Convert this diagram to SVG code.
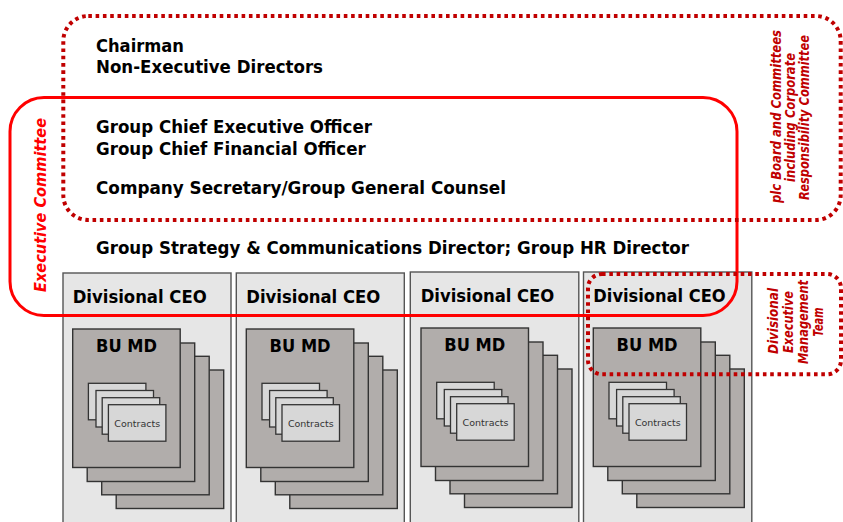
<svg xmlns="http://www.w3.org/2000/svg" width="843" height="522" viewBox="0 0 843 522">
<style>
.bg{fill:#ffffff}
.col{fill:#e6e6e6;stroke:#555555;stroke-width:1.4}
.bu{fill:#b1adab;stroke:#333333;stroke-width:1.4}
.ct{fill:#d7d7d7;stroke:#333333;stroke-width:1.3}
.t{font-family:"DejaVu Sans","Liberation Sans",sans-serif;font-weight:bold;fill:#000000}
.main{font-size:17px}
.dceo{font-size:17.5px}
.bumd{font-size:18px;text-anchor:middle}
.ctt{font-family:"DejaVu Sans","Liberation Sans",sans-serif;font-size:9.5px;fill:#333333;text-anchor:middle}
.exec{fill:none;stroke:#ff0000;stroke-width:3}
.dot{fill:none;stroke:#c00000;stroke-width:4;stroke-dasharray:3.6 3.7}
.rl{font-family:"DejaVu Sans","Liberation Sans",sans-serif;font-weight:bold;font-style:italic;text-anchor:middle}
.red{fill:#ff0000;font-size:16.5px}
.dred{fill:#c00000;font-size:14px}
</style>
<rect class="bg" x="0" y="0" width="843" height="522"/>

<g id="division-1">
<rect class="col" x="63" y="273" width="168" height="260"/>
<text class="t dceo" x="72.7" y="303.3" textLength="134" lengthAdjust="spacingAndGlyphs">Divisional CEO</text>
<rect class="bu" x="116.2" y="370" width="107.5" height="138.5"/>
<rect class="bu" x="101.7" y="356.3" width="107.5" height="138.5"/>
<rect class="bu" x="87.2" y="343" width="107.5" height="138.5"/>
<rect class="bu" x="72.7" y="329" width="107.5" height="138.5"/>
<text class="t bumd" x="126.5" y="352" textLength="61" lengthAdjust="spacingAndGlyphs">BU MD</text>
<rect class="ct" x="88.4" y="383.3" width="57.5" height="36.5"/>
<rect class="ct" x="96" y="390.5" width="57.5" height="36.5"/>
<rect class="ct" x="102.2" y="397.7" width="57.5" height="36.5"/>
<rect class="ct" x="108.4" y="404.7" width="57.5" height="36.5"/>
<text class="ctt" x="137.2" y="426.5">Contracts</text>
</g>

<g id="division-2">
<rect class="col" x="236.3" y="273" width="168" height="260"/>
<text class="t dceo" x="246.3" y="303.3" textLength="134" lengthAdjust="spacingAndGlyphs">Divisional CEO</text>
<rect class="bu" x="289.8" y="370" width="107.5" height="138.5"/>
<rect class="bu" x="275.3" y="356.3" width="107.5" height="138.5"/>
<rect class="bu" x="260.8" y="343" width="107.5" height="138.5"/>
<rect class="bu" x="246.3" y="329" width="107.5" height="138.5"/>
<text class="t bumd" x="300.1" y="352" textLength="61" lengthAdjust="spacingAndGlyphs">BU MD</text>
<rect class="ct" x="262" y="383.3" width="57.5" height="36.5"/>
<rect class="ct" x="269.6" y="390.5" width="57.5" height="36.5"/>
<rect class="ct" x="275.8" y="397.7" width="57.5" height="36.5"/>
<rect class="ct" x="282" y="404.7" width="57.5" height="36.5"/>
<text class="ctt" x="310.8" y="426.5">Contracts</text>
</g>

<g id="division-3">
<rect class="col" x="410.3" y="272" width="168.5" height="260"/>
<text class="t dceo" x="420.7" y="302.3" textLength="133.6" lengthAdjust="spacingAndGlyphs">Divisional CEO</text>
<rect class="bu" x="464.5" y="369" width="107.5" height="138.5"/>
<rect class="bu" x="450" y="355.3" width="107.5" height="138.5"/>
<rect class="bu" x="435.5" y="342" width="107.5" height="138.5"/>
<rect class="bu" x="421" y="328" width="107.5" height="138.5"/>
<text class="t bumd" x="474.8" y="351" textLength="61" lengthAdjust="spacingAndGlyphs">BU MD</text>
<rect class="ct" x="436.7" y="382.3" width="57.5" height="36.5"/>
<rect class="ct" x="444.3" y="389.5" width="57.5" height="36.5"/>
<rect class="ct" x="450.5" y="396.7" width="57.5" height="36.5"/>
<rect class="ct" x="456.7" y="403.7" width="57.5" height="36.5"/>
<text class="ctt" x="485.5" y="425.5">Contracts</text>
</g>

<g id="division-4">
<rect class="col" x="583.5" y="272" width="168.3" height="260"/>
<text class="t dceo" x="593.3" y="302.3" textLength="132.4" lengthAdjust="spacingAndGlyphs">Divisional CEO</text>
<rect class="bu" x="636.8" y="369" width="107.5" height="138.5"/>
<rect class="bu" x="622.3" y="355.3" width="107.5" height="138.5"/>
<rect class="bu" x="607.8" y="342" width="107.5" height="138.5"/>
<rect class="bu" x="593.3" y="328" width="107.5" height="138.5"/>
<text class="t bumd" x="647.1" y="351" textLength="61" lengthAdjust="spacingAndGlyphs">BU MD</text>
<rect class="ct" x="609" y="382.3" width="57.5" height="36.5"/>
<rect class="ct" x="616.6" y="389.5" width="57.5" height="36.5"/>
<rect class="ct" x="622.8" y="396.7" width="57.5" height="36.5"/>
<rect class="ct" x="629" y="403.7" width="57.5" height="36.5"/>
<text class="ctt" x="657.8" y="425.5">Contracts</text>
</g>

<g id="executive-committee">
<rect class="exec" x="10" y="97.5" width="727" height="218" rx="34" ry="34"/>
<text class="rl red" transform="translate(46,205) rotate(-90)" x="0" y="0" textLength="174" lengthAdjust="spacingAndGlyphs">Executive Committee</text>
</g>

<g id="plc-board">
<rect class="dot" x="63.3" y="16" width="777.4" height="204" rx="25" ry="25"/>
<text class="rl dred" transform="translate(780.5,116.5) rotate(-90)" x="0" y="0" textLength="173" lengthAdjust="spacingAndGlyphs">plc Board and Committees</text>
<text class="rl dred" transform="translate(794.5,117.5) rotate(-90)" x="0" y="0" textLength="129" lengthAdjust="spacingAndGlyphs">including Corporate</text>
<text class="rl dred" transform="translate(808.5,117.5) rotate(-90)" x="0" y="0" textLength="165" lengthAdjust="spacingAndGlyphs">Responsibility Committee</text>
</g>

<g id="divisional-executive-management-team">
<rect class="dot" x="588" y="274" width="253" height="100.3" rx="14" ry="14"/>
<text class="rl dred" transform="translate(778.3,321) rotate(-90)" x="0" y="0" textLength="66" lengthAdjust="spacingAndGlyphs">Divisional</text>
<text class="rl dred" transform="translate(793.3,322) rotate(-90)" x="0" y="0" textLength="62" lengthAdjust="spacingAndGlyphs">Executive</text>
<text class="rl dred" transform="translate(808,322) rotate(-90)" x="0" y="0" textLength="84" lengthAdjust="spacingAndGlyphs">Management</text>
<text class="rl dred" transform="translate(823.3,322) rotate(-90)" x="0" y="0" textLength="29" lengthAdjust="spacingAndGlyphs">Team</text>
</g>

<g id="board-members">
<text class="t main" x="96" y="51.7" textLength="88" lengthAdjust="spacingAndGlyphs">Chairman</text>
<text class="t main" x="96" y="73.3" textLength="227" lengthAdjust="spacingAndGlyphs">Non-Executive Directors</text>
</g>

<g id="group-officers">
<text class="t main" x="96" y="132.7" textLength="276" lengthAdjust="spacingAndGlyphs">Group Chief Executive Officer</text>
<text class="t main" x="96" y="155" textLength="269.7" lengthAdjust="spacingAndGlyphs">Group Chief Financial Officer</text>
<text class="t main" x="96" y="194.3" textLength="410" lengthAdjust="spacingAndGlyphs">Company Secretary/Group General Counsel</text>
</g>

<g id="group-directors">
<text class="t main" x="96" y="254" textLength="593" lengthAdjust="spacingAndGlyphs">Group Strategy &amp; Communications Director; Group HR Director</text>
</g>

<g id="connectors"></g>
</svg>
